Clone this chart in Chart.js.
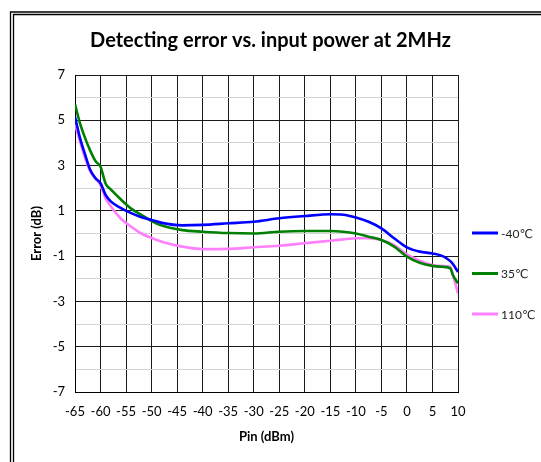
<!DOCTYPE html>
<html>
<head>
<meta charset="utf-8">
<script src="https://cdn.jsdelivr.net/npm/chart.js@4/dist/chart.umd.min.js"></script>
<style>
html,body{margin:0;padding:0;background:#fff;}
canvas{display:block;}
</style>
</head>
<body>
<canvas id="c" width="541" height="462"></canvas>
<script>
const pinValues = [-65,-64,-63,-62,-61,-60,-59,-58,-56,-54,-52,-50,-48,-44,-40,-35,-30,-25,-20,-15,-12.5,-10,-7.5,-5,-2.5,0,2.5,5,7,8.5,9,10];
const errMinus40 = [5.15,4.2,3.47,2.8,2.44,2.22,1.7,1.42,1.12,0.9,0.72,0.6,0.47,0.36,0.38,0.45,0.52,0.67,0.77,0.85,0.83,0.71,0.52,0.23,-0.21,-0.61,-0.80,-0.88,-1.0,-1.22,-1.35,-1.7];
const err35 = [5.7,4.85,4.2,3.65,3.2,2.95,2.2,1.95,1.5,1.1,0.82,0.55,0.35,0.15,0.08,0.02,0.0,0.08,0.11,0.11,0.08,0.0,-0.14,-0.29,-0.58,-1.02,-1.29,-1.43,-1.47,-1.54,-1.83,-2.2];
const err110 = [4.85,4.05,3.32,2.73,2.44,2.14,1.55,1.2,0.65,0.3,0.0,-0.2,-0.36,-0.58,-0.69,-0.68,-0.61,-0.54,-0.43,-0.32,-0.26,-0.21,-0.21,-0.29,-0.51,-0.92,-1.20,-1.39,-1.44,-1.47,-1.83,-2.64];
const seriesLabels = ['-40\u2103','35\u2103','110\u2103'];
const seriesColors = ['#0000ff','#008000','#ff80ff'];
const titleText = 'Detecting error vs. input power at 2MHz';
const xTitle = 'Pin (dBm)';
const yTitle = 'Error (dB)';

function pts(ys){ return pinValues.map((x,i)=>({x:x,y:ys[i]})); }

const frame = {
  id:'frame',
  beforeDraw(chart){
    const ctx = chart.ctx;
    ctx.save();
    ctx.fillStyle='#fff';
    ctx.fillRect(0,0,chart.width,chart.height);
    ctx.strokeStyle='#000';
    ctx.lineWidth=1.3;
    ctx.beginPath();
    ctx.moveTo(10.5,chart.height); ctx.lineTo(10.5,12); ctx.lineTo(chart.width,12);
    ctx.moveTo(13.5,chart.height); ctx.lineTo(13.5,14.5); ctx.lineTo(chart.width,14.5);
    ctx.stroke();
    ctx.fillStyle='#000';
    ctx.font='bold 20px Lato, "Open Sans", sans-serif';
    ctx.textAlign='center';
    ctx.textBaseline='middle';
    ctx.fillText(titleText, chart.width/2, 41);
    ctx.restore();
  },
  afterDraw(chart){
    const ctx = chart.ctx;
    ctx.save();
    ctx.font = '12px Lato, "DejaVu Sans", sans-serif';
    ctx.textBaseline='middle';
    ctx.textAlign='left';
    const x0 = chart.chartArea.right + 14;
    const yStart = 233, gap = 40.5;
    chart.data.datasets.forEach((ds,i)=>{
      const y = yStart + i*gap;
      ctx.strokeStyle = ds.borderColor;
      ctx.lineWidth = 3;
      ctx.beginPath(); ctx.moveTo(x0,y); ctx.lineTo(x0+26,y); ctx.stroke();
      ctx.fillStyle='#222';
      ctx.fillText(ds.label, x0+29, y+1);
    });
    ctx.restore();
  }
};

new Chart(document.getElementById('c'), {
  type:'line',
  data:{
    datasets:[
      {label:seriesLabels[0], data:pts(errMinus40), borderColor:seriesColors[0]},
      {label:seriesLabels[1], data:pts(err35), borderColor:seriesColors[1]},
      {label:seriesLabels[2], data:pts(err110), borderColor:seriesColors[2]}
    ]
  },
  options:{
    responsive:false,
    animation:false,
    devicePixelRatio:1,
    layout:{padding:{left:10,right:83,top:75,bottom:0}},
    elements:{
      point:{radius:0},
      line:{borderWidth:2.6, cubicInterpolationMode:'monotone', fill:false}
    },
    plugins:{
      legend:{display:false},
      tooltip:{enabled:false},
      title:{display:false}
    },
    scales:{
      x:{
        type:'linear', min:-65, max:10,
        ticks:{stepSize:5, padding:12, color:'#000', maxRotation:0, minRotation:0, autoSkip:false,
          font:{family:'Lato, sans-serif', size:13}},
        grid:{color:'#1a1a1a', lineWidth:1, drawTicks:false},
        border:{color:'#000', width:1},
        title:{display:true, text:xTitle, color:'#000', font:{family:'Lato, sans-serif', size:13, weight:'bold', lineHeight:1.2}, padding:{top:0,bottom:17}},
        afterFit(s){ s.height = 70; }
      },
      y:{
        type:'linear', min:-7, max:7,
        ticks:{stepSize:1, padding:10, color:'#000', font:{family:'Lato, sans-serif', size:13},
          callback:(v)=> (Math.abs(v)%2===1 ? String(v) : '')},
        grid:{drawTicks:false, lineWidth:1,
          color:(c)=> (Math.abs(c.tick.value)%2===1 ? '#1a1a1a' : '#d4d4d4')},
        border:{color:'#000', width:1},
        title:{display:true, text:yTitle, color:'#000', font:{family:'Lato, sans-serif', size:13, weight:'bold', lineHeight:1.2}, padding:{top:19,bottom:0}},
        afterFit(s){ s.width = 65; }
      }
    }
  },
  plugins:[frame]
});
</script>
</body>
</html>
